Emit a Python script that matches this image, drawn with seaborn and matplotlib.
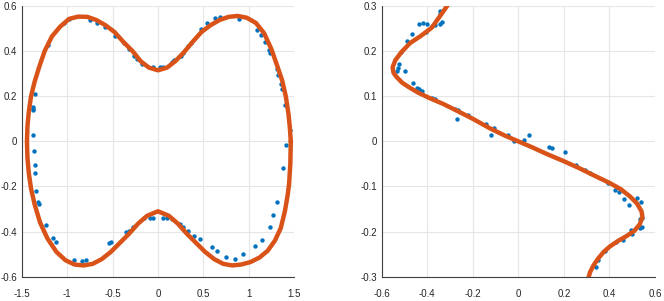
import numpy as np
import pandas as pd
import matplotlib
matplotlib.use("Agg")
import matplotlib.pyplot as plt
import seaborn as sns

# ---- data ----
# left panel: closed fitted curve
left_curve_x = [1.465, 1.455, 1.44, 1.41, 1.37, 1.317, 1.25, 1.17, 1.08, 0.98, 0.88, 0.78, 0.68, 0.58,
                0.48, 0.38, 0.28, 0.19, 0.10, 0.0, -0.10, -0.19, -0.28, -0.38, -0.48, -0.58, -0.68,
                -0.78, -0.88, -0.98, -1.08, -1.17, -1.25, -1.31, -1.36, -1.40, -1.425, -1.44, -1.445,
                -1.44, -1.425, -1.40, -1.36, -1.30, -1.22, -1.12, -1.02, -0.92, -0.82, -0.72, -0.62,
                -0.52, -0.42, -0.32, -0.22, -0.12, 0.0, 0.12, 0.22, 0.32, 0.42, 0.52, 0.62, 0.72,
                0.82, 0.92, 1.02, 1.12, 1.21, 1.29, 1.354, 1.40, 1.43, 1.446, 1.46, 1.465]
left_curve_y = [0.0, 0.06, 0.12, 0.20, 0.27, 0.333, 0.41, 0.48, 0.525, 0.548, 0.556, 0.552, 0.538, 0.515,
                0.485, 0.44, 0.392, 0.355, 0.327, 0.315, 0.327, 0.355, 0.40, 0.44, 0.485, 0.515, 0.538,
                0.552, 0.553, 0.543, 0.508, 0.465, 0.40, 0.33, 0.265, 0.20, 0.13, 0.065, 0.0,
                -0.07, -0.14, -0.21, -0.28, -0.36, -0.43, -0.49, -0.527, -0.546, -0.55, -0.543, -0.522,
                -0.49, -0.45, -0.41, -0.365, -0.33, -0.31, -0.33, -0.365, -0.41, -0.45, -0.49, -0.522, -0.543,
                -0.55, -0.546, -0.535, -0.515, -0.485, -0.44, -0.385, -0.31, -0.24, -0.19, -0.10, 0.0]

# left panel: noisy samples
left_dots_x = [-1.361, -1.383, -1.383, -1.383, -1.383, -1.213, -1.041, -0.986, -0.754, -0.672, -0.58,
               -0.47, -0.378, -0.323, -0.267, -0.23, -0.175, -0.053, 0.02,
               0.057, 0.157, 0.182, 0.249, 0.278, 0.334, 0.359, 0.477, 0.536, 0.628, 0.68, 0.893,
               1.088, 1.133, 1.18, 1.224, 1.235, 1.317, 1.328, 1.354, 1.372, 1.398, 1.456, 1.409,
               -1.372, -1.361, -1.357, -1.343, -1.324, -1.309, -1.232, -1.162, -1.122, -0.923, -0.838,
               -0.79, -0.544, -0.517, -0.348, -0.323, -0.274, -0.157, -0.083, -0.057,
               0.057, 0.102, 0.157, 0.241, 0.278, 0.334, 0.396, 0.462, 0.591, 0.654, 0.746, 0.845,
               0.941, 1.066, 1.151, 1.232, 1.273, 1.309, 1.383]
left_dots_y = [0.208, 0.153, 0.145, 0.137, 0.03, 0.427, 0.526, 0.541, 0.536, 0.526, 0.507,
               0.467, 0.437, 0.408, 0.378, 0.363, 0.341, 0.331, 0.329,
               0.329, 0.351, 0.359, 0.378, 0.393, 0.422, 0.434, 0.5, 0.523, 0.545, 0.551, 0.544,
               0.493, 0.471, 0.44, 0.404, 0.393, 0.319, 0.296, 0.256, 0.23, 0.159, 0.052, -0.015,
               -0.044, -0.104, -0.141, -0.222, -0.267, -0.277, -0.37, -0.427, -0.447, -0.526, -0.53,
               -0.526, -0.449, -0.444, -0.404, -0.396, -0.381, -0.341, -0.338, -0.338,
               -0.341, -0.341, -0.345, -0.366, -0.381, -0.397, -0.418, -0.434, -0.469, -0.486, -0.512, -0.521,
               -0.498, -0.462, -0.437, -0.378, -0.326, -0.268, -0.118]

# right panel: fitted curve
right_curve_x = [-0.31, -0.345, -0.38, -0.43, -0.475, -0.513, -0.54, -0.552, -0.548, -0.535, -0.51,
                 -0.48, -0.44, -0.39, -0.33, -0.27, -0.2, -0.125, -0.06, 0.0, 0.06, 0.125, 0.2,
                 0.27, 0.33, 0.40, 0.45, 0.49, 0.52, 0.541, 0.545, 0.533, 0.51, 0.475, 0.44, 0.402,
                 0.375, 0.35, 0.33, 0.315, 0.308]
right_curve_y = [0.302, 0.277, 0.252, 0.233, 0.218, 0.198, 0.18, 0.164, 0.152, 0.143, 0.13,
                 0.12, 0.108, 0.096, 0.083, 0.068, 0.05, 0.029, 0.013, 0.0, -0.013, -0.028, -0.044,
                 -0.06, -0.075, -0.092, -0.106, -0.122, -0.137, -0.155, -0.168, -0.184, -0.198, -0.21,
                 -0.22, -0.233, -0.245, -0.26, -0.275, -0.29, -0.302]

# right panel: noisy samples
right_dots_x = [-0.345, -0.342, -0.337, -0.345, -0.364, -0.377, -0.4, -0.42, -0.437, -0.406, -0.469,
                -0.488, -0.513, -0.523, -0.528, -0.532, -0.498, -0.464, -0.447, -0.435, -0.425, -0.377,
                -0.367, -0.279, -0.267, -0.271, -0.223, -0.144, -0.108, -0.122, -0.045, -0.02, 0.026,
                0.046, 0.135, 0.148, 0.204, 0.252, 0.292, 0.314, 0.394, 0.424, 0.442, 0.463, 0.486,
                0.519, 0.538, 0.533, 0.543, 0.541, 0.536, 0.493, 0.501, 0.46, 0.428, 0.38, 0.35, 0.34]
right_dots_y = [0.29, 0.282, 0.265, 0.26, 0.258, 0.256, 0.26, 0.262, 0.26, 0.243, 0.238,
                0.223, 0.197, 0.172, 0.162, 0.155, 0.155, 0.129, 0.118, 0.117, 0.111, 0.096,
                0.094, 0.072, 0.07, 0.05, 0.058, 0.038, 0.03, 0.013, 0.015, 0.0, 0.004,
                0.013, -0.013, -0.015, -0.024, -0.052, -0.064, -0.071, -0.092, -0.108, -0.113, -0.127, -0.142,
                -0.125, -0.134, -0.173, -0.169, -0.19, -0.193, -0.197, -0.206, -0.219, -0.223, -0.243, -0.262, -0.278]

left_xticks = [-1.5, -1, -0.5, 0, 0.5, 1, 1.5]
left_xlabels = ["-1.5", "-1", "-0.5", "0", "0.5", "1", "1.5"]
left_yticks = [-0.6, -0.4, -0.2, 0, 0.2, 0.4, 0.6]
left_ylabels = ["-0.6", "-0.4", "-0.2", "0", "0.2", "0.4", "0.6"]
right_xticks = [-0.6, -0.4, -0.2, 0, 0.2, 0.4, 0.6]
right_xlabels = ["-0.6", "-0.4", "-0.2", "0", "0.2", "0.4", "0.6"]
right_yticks = [-0.3, -0.2, -0.1, 0, 0.1, 0.2, 0.3]
right_ylabels = ["-0.3", "-0.2", "-0.1", "0", "0.1", "0.2", "0.3"]

BLUE = "#0072BD"
ORANGE = "#D95319"

sns.set_style("whitegrid")
plt.rcParams['font.family'] = ['Liberation Sans', 'DejaVu Sans']

fig = plt.figure(figsize=(6.64, 3.01), dpi=100)
ax1 = fig.add_axes([0.0331, 0.0807, 0.4096, 0.8993])
ax2 = fig.add_axes([0.5748, 0.0807, 0.4116, 0.8993])

panels = [
    (ax1, left_dots_x, left_dots_y, left_curve_x, left_curve_y, (-1.5, 1.5), (-0.6, 0.6),
     left_xticks, left_xlabels, left_yticks, left_ylabels),
    (ax2, right_dots_x, right_dots_y, right_curve_x, right_curve_y, (-0.6, 0.6), (-0.3, 0.3),
     right_xticks, right_xlabels, right_yticks, right_ylabels),
]

for ax, dx, dy, cx, cy, xl, yl, xt, xtl, yt, ytl in panels:
    dots = pd.DataFrame({'x': dx, 'y': dy})
    curve = pd.DataFrame({'x': cx, 'y': cy})
    sns.scatterplot(data=dots, x='x', y='y', ax=ax, color=BLUE, s=10, linewidth=0, zorder=2)
    sns.lineplot(data=curve, x='x', y='y', ax=ax, sort=False, estimator=None, color=ORANGE,
                 lw=3.2, zorder=3)
    ax.set_xlim(*xl)
    ax.set_ylim(*yl)
    ax.set_xticks(xt)
    ax.set_xticklabels(xtl)
    ax.set_yticks(yt)
    ax.set_yticklabels(ytl)
    ax.set_xlabel("")
    ax.set_ylabel("")
    ax.grid(True, color="#E6E6E6", lw=0.8)
    for side in ["top", "right"]:
        ax.spines[side].set_visible(False)
    for side in ["left", "bottom"]:
        ax.spines[side].set_color("#404040")
        ax.spines[side].set_linewidth(0.8)
    ax.tick_params(direction='out', width=0.8, color="#404040",
                   labelsize=7, labelcolor="#262626")
    ax.tick_params(axis='y', length=2, pad=1.5)
    ax.tick_params(axis='x', length=3, pad=6)
    ax.set_facecolor("white")

fig.savefig("out.png", dpi=100)
